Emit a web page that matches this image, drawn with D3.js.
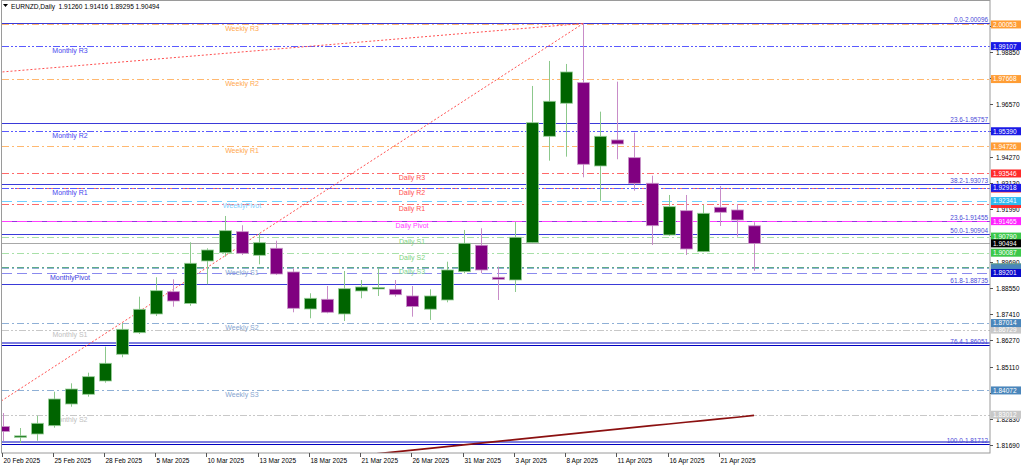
<!DOCTYPE html>
<html><head><meta charset="utf-8">
<script src="https://cdn.jsdelivr.net/npm/d3@7"></script>
<style>
body{margin:0;background:#fff;}
svg{display:block;font-family:"Liberation Sans",Arial,sans-serif;}
</style>
</head><body>
<svg id="chart" width="1024" height="467"></svg>
<script>
// ---------- data ----------
const title = "EURNZD,Daily  1.91260 1.91416 1.89295 1.90494";
const dates = ["20 Feb 2025","21 Feb 2025","24 Feb 2025","25 Feb 2025","26 Feb 2025","27 Feb 2025","28 Feb 2025",
  "3 Mar 2025","4 Mar 2025","5 Mar 2025","6 Mar 2025","7 Mar 2025","10 Mar 2025","11 Mar 2025","12 Mar 2025",
  "13 Mar 2025","14 Mar 2025","17 Mar 2025","18 Mar 2025","19 Mar 2025","20 Mar 2025","21 Mar 2025","24 Mar 2025",
  "25 Mar 2025","26 Mar 2025","27 Mar 2025","28 Mar 2025","31 Mar 2025","1 Apr 2025","2 Apr 2025","3 Apr 2025",
  "4 Apr 2025","7 Apr 2025","8 Apr 2025","9 Apr 2025","10 Apr 2025","11 Apr 2025","14 Apr 2025","15 Apr 2025",
  "16 Apr 2025","17 Apr 2025","18 Apr 2025","21 Apr 2025","22 Apr 2025","23 Apr 2025"];
const opens  = [1.82498,1.82083,1.82170,1.82533,1.83480,1.83904,1.84485,1.85651,1.86594,1.87411,1.88384,1.87869,1.89725,1.90087,1.91004,
  1.89974,1.90280,1.89245,1.87629,1.88052,1.87411,1.88415,1.88502,1.88489,1.88197,1.87620,1.88022,1.89258,1.90411,1.89013,
  1.88895,1.90524,1.95170,1.96612,1.97511,1.93873,1.95009,1.94236,1.93118,1.90860,1.91921,1.90131,1.92070,1.91952,1.91260];
const highs  = [1.83087,1.82432,1.82969,1.84018,1.84384,1.84847,1.85983,1.87004,1.88166,1.89013,1.88926,1.90542,1.90280,1.91690,1.91284,
  1.90935,1.90611,1.89406,1.88314,1.88633,1.89288,1.88895,1.89406,1.88895,1.88633,1.88489,1.89694,1.91079,1.91153,1.89476,
  1.91441,1.97367,1.98459,1.98328,2.00096,1.96245,1.97555,1.95328,1.93450,1.92607,1.92607,1.92170,1.93000,1.92214,1.91416];
const lows   = [1.81865,1.81777,1.81878,1.82445,1.83362,1.83799,1.84411,1.85520,1.86537,1.87323,1.87729,1.87769,1.88708,1.89913,1.89987,
  1.89581,1.89114,1.87485,1.87223,1.87441,1.87105,1.88096,1.88197,1.88166,1.87293,1.87149,1.87921,1.89188,1.89188,1.88022,
  1.88371,1.90498,1.94105,1.94280,1.93380,1.92345,1.94166,1.92795,1.90424,1.90817,1.89987,1.90118,1.91253,1.90786,1.89295];
const closes = [1.82280,1.82090,1.82638,1.83699,1.84135,1.84673,1.85258,1.86742,1.87616,1.88428,1.87978,1.89625,1.90205,1.91048,1.90061,
  1.90524,1.89157,1.87659,1.88096,1.87485,1.88515,1.88590,1.88568,1.88253,1.87738,1.88197,1.89332,1.90498,1.89332,1.88926,
  1.90760,1.95764,1.96699,1.97978,1.93948,1.95170,1.94834,1.93118,1.91266,1.92096,1.90249,1.91808,1.91852,1.91515,1.90494];

const maIndex  = [20,21,22,23,24,25,26,27,28,29,30,31,32,33,34,35,36,37,38,39,40,41,42,43,44];
const maValues = [1.81162,1.81236,1.81314,1.81389,1.81467,1.81542,1.81620,1.81694,1.81773,1.81847,1.81926,1.82000,1.82079,
  1.82153,1.82231,1.82306,1.82384,1.82459,1.82537,1.82610,1.82683,1.82755,1.82830,1.82905,1.82985];

const levelNames  = ["Monthly S2","Monthly S1","Daily R3","Daily R2","Daily R1","Daily Pivot","Daily S1","Daily S2","Daily S3",
  "Weekly R3","Weekly R2","Weekly R1","WeeklyPivot","Weekly S1","Weekly S2","Weekly S3",
  "Monthly R3","Monthly R2","Monthly R1","MonthlyPivot"];
const levelPrices = [1.83012,1.86729,1.93546,1.92890,1.92214,1.91465,1.90790,1.90087,1.89450,
  2.00053,1.97668,1.94726,1.92341,1.89400,1.87014,1.84072,
  1.99107,1.95390,1.92918,1.89201];

const fibNames  = ["0.0","23.6","38.2","50.0","61.8","76.4","100.0","23.6"];
const fibPrices = [2.00096,1.95757,1.93073,1.90904,1.88735,1.86051,1.81712,1.91455];

const trendFrom = [[-4,1.81712],[0,1.97980]];
const trendTo   = [[34,2.00096],[34,2.00096]];

const bidPrice = 1.90494;
const yTicks = [1.81690,1.82830,1.83970,1.85110,1.86270,1.87410,1.88550,1.89690,1.90830,1.91990,1.93130,1.94270,1.95410,1.96570,1.97710,1.98850,1.99990];
const xLabelEvery = 3;

// ---------- setup ----------
const svg = d3.select("#chart");
const L = 2, R = 990, T = 2, B = 453;
const x = d3.scaleLinear().domain([0, 44]).range([2.5, 2.5 + 17.08 * 44]);
const y = d3.scaleLinear().domain([1.81690, 1.98850]).range([445, 52]);
const fmt = d3.format(".5f");

svg.append("defs").append("clipPath").attr("id","clip")
  .append("rect").attr("x",L).attr("y",T).attr("width",R-L).attr("height",B-T);

const plot = svg.append("g").attr("clip-path","url(#clip)");

function groupOf(name){
  if (name.startsWith("Monthly")) return name.includes("Pivot") ? "MP" : (name.includes("S") ? "MS" : "MR");
  if (name.startsWith("Weekly")) return name.includes("Pivot") ? "WP" : (name.includes("R") ? "WR" : "WS");
  if (name.includes("Pivot")) return "DP";
  if (name.includes("R")) return "DR";
  return name.endsWith("3") ? "DS3" : "DS";
}
const style = {
  MS:{line:"#c8c8c8", dash:"7,2,2,2,2,2", text:"#c0c0c0", box:"#c8c8c8", cx:70},
  MR:{line:"#5a5aff", dash:"7,2,2,2,2,2", text:"#4646ee", box:"#1a1ae6", cx:70},
  MP:{line:"#8a8aee", dash:"10,5", text:"#3c3ce0", box:"#0a0acc", cx:70},
  WR:{line:"#ffb870", dash:"7,3,2,3", text:"#ffa850", box:"#ff9d35", cx:242},
  WP:{line:"#70d0ff", dash:"10,5", text:"#7fcfff", box:"#2fbaf0", cx:242},
  WS:{line:"#8fb0d6", dash:"7,3,2,3", text:"#88a6d0", box:"#4a86bb", cx:242},
  DR:{line:"#ff6a6a", dash:"7,3,2,3", text:"#ff5050", box:"#ff2a2a", cx:412},
  DP:{line:"#ff40ff", dash:"10,5", text:"#ff40ff", box:"#ff22ff", cx:412},
  DS:{line:"#a8e0a8", dash:"7,3,2,3", text:"#80d480", box:"#3cc84a", cx:412},
  DS3:{line:"#5faa88", dash:"7,3,2,3", text:"#80d490", box:"#5a9a86", cx:412}
};

// ---------- fib lines ----------
fibNames.forEach((n,i)=>{
  const yy = Math.round(y(fibPrices[i])) + 0.5;
  const extra = i === 7;
  const dbl = (n === "76.4" || n === "100.0");
  if (dbl) {
    [-2.5, 0].forEach(off=>plot.append("line").attr("x1",L).attr("x2",R).attr("y1",yy+off).attr("y2",yy+off)
      .attr("stroke","#0000c0").attr("stroke-width",1));
  } else {
    plot.append("line").attr("x1",L).attr("x2",R).attr("y1",yy).attr("y2",yy)
      .attr("stroke", extra ? "#9b30e0" : "#3a3ad8").attr("stroke-width", 1.2);
  }
});

// ---------- level lines ----------
levelNames.forEach((n,i)=>{
  const s = style[groupOf(n)];
  const yy = Math.round(y(levelPrices[i])) + 0.5;
  plot.append("line").attr("x1",L).attr("x2",R).attr("y1",yy).attr("y2",yy)
    .attr("stroke",s.line).attr("stroke-width",1).attr("stroke-dasharray",s.dash);
});

// bid line
plot.append("line").attr("x1",L).attr("x2",R)
  .attr("y1",Math.round(y(bidPrice))+0.5).attr("y2",Math.round(y(bidPrice))+0.5)
  .attr("stroke","#a8a8a8").attr("stroke-width",1);

// ---------- trend (fib baseline) lines ----------
trendFrom.forEach((p,i)=>{
  const q = trendTo[i];
  plot.append("line").attr("x1",x(p[0])).attr("y1",y(p[1])).attr("x2",x(q[0])).attr("y2",y(q[1]))
    .attr("stroke","#ff5050").attr("stroke-width",1).attr("stroke-dasharray","2,2");
});

// ---------- level labels ----------
levelNames.forEach((n,i)=>{
  const s = style[groupOf(n)];
  plot.append("text").attr("x",s.cx).attr("y",y(levelPrices[i])+7)
    .attr("text-anchor","middle").attr("font-size","7px").attr("fill",s.text).text(n);
});

// ---------- fib labels ----------
fibNames.forEach((n,i)=>{
  plot.append("text").attr("x",988).attr("y",Math.round(y(fibPrices[i]))-1)
    .attr("text-anchor","end").attr("font-size","6.4px").attr("fill","#4a4ad8")
    .text(n + "-" + fmt(fibPrices[i]));
});

// ---------- moving average ----------
plot.append("path").datum(maIndex.map((d,i)=>[d,maValues[i]]))
  .attr("fill","none").attr("stroke","#8b1010").attr("stroke-width",1.6)
  .attr("d", d3.line().x(d=>x(d[0])).y(d=>y(d[1])));

// ---------- candles ----------
const candles = dates.map((d,i)=>({i, o:opens[i], h:highs[i], l:lows[i], c:closes[i]}));
const cg = plot.append("g");
candles.forEach(d=>{
  const bull = d.c >= d.o;
  const cx = Math.round(x(d.i)) + 0.5;
  cg.append("line").attr("x1",cx).attr("x2",cx).attr("y1",y(d.h)).attr("y2",y(d.l))
    .attr("stroke", bull ? "#8cc88c" : "#c88cc8").attr("stroke-width",1);
  const top = y(Math.max(d.o,d.c)), bot = y(Math.min(d.o,d.c));
  cg.append("rect").attr("x",cx-6).attr("width",12)
    .attr("y",top).attr("height",Math.max(1.5, bot-top))
    .attr("fill", bull ? "#006400" : "#800080")
    .attr("stroke", bull ? "#9ad09a" : "#c896c8").attr("stroke-width",0.8);
});

// ---------- frame ----------
svg.append("rect").attr("x",1.5).attr("y",0.5).attr("width",R-1.5).attr("height",B-0.5)
  .attr("fill","none").attr("stroke","#9a9a9a").attr("stroke-width",1);

// header
svg.append("path").attr("d","M3,4 L8,4 L5.5,7 Z").attr("fill","#000");
svg.append("text").attr("x",11).attr("y",9).attr("font-size","6.6px").attr("fill","#000")
  .attr("xml:space","preserve").style("white-space","pre").text(title);

// ---------- y axis ----------
const boxPrices = levelPrices.concat([bidPrice]);
const ya = svg.append("g");
yTicks.forEach(t=>{
  const yy = Math.round(y(t)) + 0.5;
  if (yy < T || yy > B) return;
  ya.append("line").attr("x1",R).attr("x2",R+3).attr("y1",yy).attr("y2",yy).attr("stroke","#555");
  // labels fully covered by a price box are not visible in the original
  const covered = boxPrices.some(p => Math.abs(y(p) - y(t)) < 3);
  if (!covered)
    ya.append("text").attr("x",R+6).attr("y",yy+2.4).attr("font-size","6.5px").attr("fill","#000").text(fmt(t));
});

// price boxes (drawn in order; a box mostly hidden by a later one shows no readable text)
const boxList = levelNames.map((n,i)=>({p:levelPrices[i], c:style[groupOf(n)].box}))
  .concat([{p:bidPrice, c:"#000"}]);
boxList.forEach((b,k)=>{
  const yy = y(b.p);
  ya.append("rect").attr("x",R+1).attr("y",yy-4).attr("width",30).attr("height",8).attr("fill",b.c);
  const hidden = boxList.slice(k+1).some(o => Math.abs(y(o.p) - yy) < 5);
  if (!hidden)
    ya.append("text").attr("x",R+3).attr("y",yy+2.4).attr("font-size","6.5px").attr("fill","#fff").text(fmt(b.p));
});

// ---------- x axis ----------
const xa = svg.append("g");
dates.forEach((d,i)=>{
  if (i % xLabelEvery !== 0) return;
  const xx = Math.round(x(i)) - 0.5;
  xa.append("line").attr("x1",xx).attr("x2",xx).attr("y1",B).attr("y2",B+4).attr("stroke","#555");
  xa.append("text").attr("x",xx+1).attr("y",463).attr("font-size","6.5px").attr("fill","#000").text(d);
});
</script>
</body></html>
